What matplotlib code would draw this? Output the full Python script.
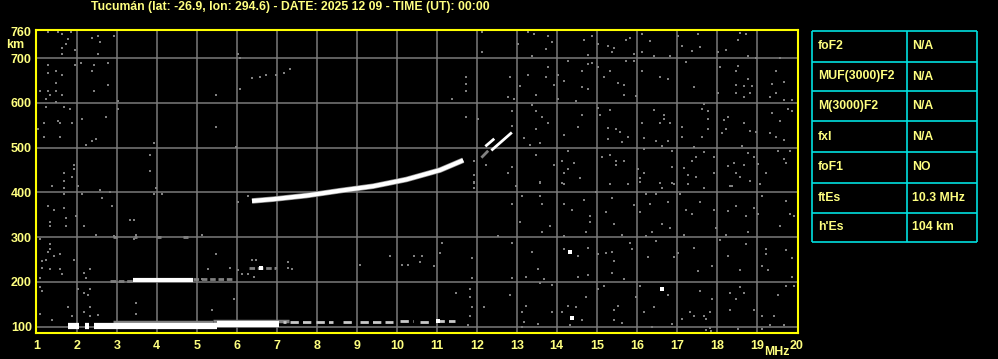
import numpy as np
import matplotlib
matplotlib.use("Agg")
import matplotlib.pyplot as plt

# -------------------------------
# Ionogram data
# -------------------------------
title = "Tucumán (lat: -26.9, lon: 294.6) - DATE: 2025 12 09 - TIME (UT): 00:00"

freq_ticks = list(range(1, 21))
height_ticks = [100, 200, 300, 400, 500, 600, 700, 760]
height_grid = [100, 200, 300, 400, 500, 600, 700]

# F layer trace (MHz, km)
f_trace_f = [6.38, 6.91, 7.74, 8.58, 9.41, 10.24, 11.08, 11.66]
f_trace_h = [381, 385, 393, 404, 414, 429, 450, 472]

# short traces above the F trace
x1_f = [12.24, 12.41]
x1_h = [505, 518]
x2_f = [12.39, 12.85]
x2_h = [496, 532]
x_gray_f = [12.14, 12.26]
x_gray_h = [480, 491]

# sporadic E (start MHz, end MHz, height km)
es_solid_f0 = [1.78, 2.20, 2.43, 5.50]
es_solid_f1 = [2.05, 2.31, 5.50, 7.05]
es_solid_h = [102, 101, 102, 105]

es_fringe_f0 = [2.90, 5.40]
es_fringe_f1 = [5.40, 7.30]
es_fringe_h = [110, 112]

es_broken_f0 = [7.16, 7.33, 7.99, 8.66, 9.08, 10.08, 10.58, 10.99]
es_broken_f1 = [7.24, 7.91, 8.41, 8.91, 9.91, 10.41, 10.83, 11.45]
es_broken_h = [111, 111, 110, 111, 111, 112, 111, 113]

# second hop of Es
es2_white_f0 = [3.40]
es2_white_f1 = [4.90]
es2_white_h = [204]
es2_gray_f0 = [2.83, 4.90, 6.30]
es2_gray_f1 = [3.40, 5.87, 6.97]
es2_gray_h = [203, 206, 231]

es3_gray_f0 = [2.90, 3.43, 4.00, 4.65]
es3_gray_f1 = [3.00, 3.50, 4.10, 4.78]
es3_gray_h = [300, 300, 300, 300]

# speckle noise (MHz, km)
noise_f = [
    1.29, 1.54, 1.64, 1.85, 1.79, 1.74, 1.64, 1.64, 1.96, 2.39, 2.54, 2.59, 2.94, 2.54,
    1.29, 1.95, 2.10, 2.44, 2.79, 1.49, 1.29, 1.64, 2.39, 1.49, 1.09, 1.29, 1.49, 1.34,
    1.64, 2.44, 2.79, 1.24, 1.49, 3.04, 1.24, 1.69, 1.84, 3.04, 2.14, 2.74, 1.54, 1.19,
    1.59, 1.89, 1.04, 1.19, 1.59, 2.24, 2.39, 2.49, 3.94, 3.84, 3.84, 1.94, 1.94, 1.69,
    1.89, 1.39, 2.04, 1.69, 3.99, 5.49, 5.49, 5.99, 6.04, 6.09, 6.09, 6.38, 6.59, 6.74,
    6.99, 7.19, 7.34,
    11.96, 12.14, 12.14, 11.74, 11.74, 11.74, 11.39, 12.84, 12.79, 12.94, 12.89, 11.74,
    12.04, 12.89, 11.94, 11.94, 11.94, 12.24, 12.89, 12.79, 12.99, 13.19, 13.34, 13.49,
    13.59, 13.29, 13.44, 13.74, 13.79, 13.89, 13.04, 13.39, 13.79, 13.29, 13.74, 13.09,
    13.49, 13.94, 13.39, 13.49, 13.64, 13.79, 13.49, 14.29, 14.04, 14.19, 14.04, 14.49,
    14.64, 14.79, 14.79, 14.89, 14.64, 14.69, 14.89, 14.79, 15.04, 15.29, 15.39, 15.44,
    15.74, 15.84, 15.94, 16.14, 16.34, 16.14, 16.44, 16.84, 17.04, 17.14, 17.39, 17.59,
    17.54, 18.04, 18.24, 18.59, 18.54, 18.74, 18.79, 18.99, 15.74, 15.94, 16.14, 16.59,
    16.79, 17.44, 17.24, 15.54, 15.69, 15.69, 15.99, 15.19, 15.04, 15.34, 18.09, 18.49,
    18.54, 18.79, 18.69, 18.89, 18.49, 18.04, 18.49, 18.69, 18.84, 19.39, 19.69, 19.49,
    19.34, 19.69, 19.89, 19.49, 19.59, 19.79, 19.89, 19.39, 19.59, 19.34, 19.49, 19.69,
    19.84, 19.54, 19.69, 19.74, 19.24, 19.04, 18.94, 18.84, 18.99, 18.69, 18.64, 18.79,
    18.44, 18.29, 18.69, 18.49, 18.59, 18.34, 18.84, 18.29, 18.24, 18.14, 18.19, 17.69,
    17.64, 17.79, 17.79, 17.79, 17.64, 17.14, 17.14, 17.44, 17.69, 17.94, 17.49, 17.19,
    17.39, 17.29, 17.49, 17.94, 16.44, 16.69, 16.69, 16.59, 16.84, 16.79, 16.64, 16.14,
    16.19, 16.49, 16.19, 16.89, 16.89, 16.59, 16.89, 16.04, 16.19, 16.09, 15.04, 15.34,
    15.09, 15.29, 15.49, 15.29, 15.64, 15.79, 15.59, 15.14, 15.34, 15.49, 15.69, 15.49,
    15.34, 15.79, 14.64, 14.54, 14.19, 14.29, 14.14, 14.44, 14.19, 13.94, 14.29, 14.59,
    14.14, 13.59,
    1.39, 1.69, 2.04, 1.69, 2.14, 2.59, 2.84, 3.99, 3.94, 4.14, 2.64, 1.29, 1.44, 1.69,
    1.99, 1.74, 1.34, 1.34, 1.74, 2.19, 2.89, 3.34, 3.44, 2.49, 2.94, 3.49, 3.44, 1.09,
    5.14, 1.34, 1.34, 1.29, 1.59, 1.94, 1.14, 1.24, 1.14, 1.34, 1.59, 1.44, 1.64, 1.09,
    2.19, 2.34, 2.24, 5.49, 5.29, 5.84, 6.04, 6.14, 6.29, 6.44, 6.39, 6.49, 7.29, 7.29,
    7.39, 6.99, 9.09, 9.84, 10.14, 10.29, 10.44, 6.04, 6.29, 5.14, 1.09, 1.14, 2.04, 2.19,
    2.34, 2.29, 2.34, 2.19, 2.34, 2.54, 1.79, 1.09, 3.49, 3.49, 5.39, 5.94, 1.89, 1.39,
    11.94, 11.94, 12.99, 13.59, 14.19, 14.99, 15.34, 15.79, 16.09, 16.64, 16.94, 17.29,
    17.69, 18.39, 19.09, 12.89, 13.14, 13.59, 13.64, 14.19, 14.69, 14.39, 14.84, 14.84,
    15.24, 15.39, 15.94, 16.09, 16.24, 16.34, 16.49, 16.79, 17.09, 17.24, 17.39, 17.59,
    17.94, 18.29, 18.49, 18.74, 18.94, 19.04, 19.14, 19.74, 19.84, 19.94, 19.59, 18.79,
    18.24, 17.99, 17.19, 16.84, 16.64, 16.39, 16.24, 15.64, 15.44, 14.74, 14.19, 13.84,
    13.64, 13.09, 12.54, 12.89, 11.14, 11.09, 10.64, 10.59, 10.94, 11.89, 13.39, 13.54,
    14.19, 14.54, 14.79, 15.04, 15.24, 15.39, 15.44, 15.89, 15.84, 16.29, 16.49, 16.94,
    17.04, 17.44, 17.54, 17.89, 18.09, 18.29, 18.59, 18.74, 19.24, 19.24, 19.14, 19.29,
    19.74, 19.89, 19.89, 15.39, 15.69, 14.79, 14.54, 13.89, 13.59, 13.69, 13.24, 12.89,
    11.89, 11.84, 11.49, 11.84, 11.89, 12.19, 11.84, 11.79, 12.84, 13.24, 13.14, 13.19,
    13.54, 13.89, 14.14, 14.29, 14.49, 14.64, 14.74, 15.04, 15.19, 15.54, 15.44, 15.44,
    15.99, 16.09, 16.19, 16.44, 16.79, 17.14, 17.34, 17.59, 17.69, 17.74, 17.84, 17.89,
    18.34, 18.49, 18.59, 18.69, 18.34, 18.94, 19.14, 19.44, 19.54, 19.74, 19.94, 19.34,
    19.69, 17.84, 17.44, 16.89, 16.39, 15.64, 14.34, 13.14, 17.74, 17.86, 19.12, 18.52,
]
noise_h = [
    759, 758, 755, 759, 743, 732, 723, 710, 719, 745, 749, 737, 750, 709,
    685, 685, 690, 685, 690, 672, 667, 663, 672, 645, 626, 627, 627, 618,
    618, 627, 640, 609, 602, 605, 591, 591, 587, 587, 564, 569, 560, 555,
    555, 555, 542, 524, 524, 506, 515, 519, 510, 484, 448, 461, 452, 443,
    434, 414, 414, 410, 410, 618, 546, 501, 710, 701, 631, 655, 658, 663,
    663, 667, 676,
    762, 759, 714, 658, 643, 627, 609, 658, 614, 609, 582, 569,
    564, 549, 470, 439, 422, 461, 457, 443, 414, 522, 505, 484,
    510, 758, 755, 720, 750, 737, 732, 705, 681, 663, 658, 638,
    618, 640, 596, 582, 569, 555, 542, 694, 663, 649, 609, 605,
    636, 631, 688, 690, 672, 741, 750, 708, 732, 728, 714, 723,
    741, 746, 710, 755, 739, 714, 705, 705, 750, 728, 717, 726,
    755, 714, 719, 756, 741, 755, 705, 701, 694, 694, 672, 658,
    654, 636, 692, 645, 640, 618, 616, 658, 681, 672, 681, 672,
    683, 654, 638, 638, 640, 622, 622, 614, 622, 643, 647, 622,
    614, 607, 607, 672, 701, 587, 582, 578, 560, 533, 524, 517,
    493, 493, 475, 466, 443, 463, 479, 537, 535, 555, 504, 488,
    466, 459, 461, 443, 434, 414, 425, 569, 542, 533, 562, 598,
    587, 582, 564, 542, 524, 546, 524, 502, 490, 479, 479, 454,
    470, 439, 434, 443, 584, 573, 564, 555, 555, 515, 504, 555,
    522, 515, 497, 493, 457, 421, 421, 452, 443, 432, 589, 584,
    573, 544, 542, 519, 513, 524, 535, 479, 484, 470, 470, 461,
    418, 418, 573, 546, 528, 493, 470, 466, 443, 461, 452, 432,
    421, 421,
    414, 425, 414, 396, 396, 405, 401, 410, 396, 396, 387, 369, 360, 365,
    347, 342, 333, 324, 324, 324, 369, 338, 338, 306, 302, 306, 297, 295,
    306, 284, 273, 266, 262, 248, 246, 248, 232, 230, 230, 257, 217, 210,
    219, 230, 210, 262, 230, 232, 226, 217, 217, 212, 248, 248, 244, 232,
    228, 232, 239, 257, 239, 239, 257, 378, 392, 206, 188, 179, 185, 176,
    185, 172, 145, 132, 123, 127, 143, 129, 152, 129, 138, 163, 123, 114,
    423, 410, 414, 423, 418, 401, 418, 418, 423, 410, 418, 418,
    410, 414, 418, 374, 392, 392, 374, 374, 383, 360, 347, 333,
    356, 387, 372, 356, 396, 374, 396, 378, 396, 360, 351, 378,
    360, 358, 369, 347, 365, 351, 392, 380, 351, 347, 324, 311,
    306, 320, 306, 320, 329, 311, 302, 306, 329, 311, 302, 324,
    311, 333, 302, 288, 286, 264, 257, 244, 235, 253, 268, 228,
    273, 259, 275, 262, 264, 268, 246, 273, 288, 255, 291, 255,
    264, 277, 224, 235, 293, 257, 226, 284, 273, 262, 235, 226,
    271, 253, 212, 221, 206, 215, 212, 194, 197, 206, 212, 208,
    210, 185, 176, 167, 145, 145, 123, 103, 172, 147, 132, 111,
    107, 132, 132, 147, 143, 114, 167, 184, 190, 147, 138, 116,
    167, 190, 132, 143, 172, 118, 134, 179, 123, 118, 132, 163,
    176, 163, 188, 176, 138, 138, 123, 125, 172, 192, 190, 103,
    103, 98, 123, 107, 100, 109, 103, 100, 92, 90, 94, 96,
]

# bright isolated echoes
bright_f = [14.34, 14.39, 16.64, 6.60, 11.04]
bright_h = [266, 120, 185, 231, 113]

# parameter table
param_names = ["foF2", "MUF(3000)F2", "M(3000)F2", "fxI", "foF1", "ftEs", "h'Es"]
param_values = ["N/A", "N/A", "N/A", "N/A", "NO", "10.3 MHz", "104 km"]

# -------------------------------
# Figure
# -------------------------------
W, H = 998, 359
txt_col = "#ffff80"
frame_col = "#ffff00"
grid_col = "#7a7a7a"
noise_col = "#808080"
cyan = "#00e0e0"
font = "Liberation Sans"
fs = 8.8

fig = plt.figure(figsize=(W / 100, H / 100), dpi=100, facecolor="black")
ax = fig.add_axes([36 / W, (H - 333) / H, 762 / W, 303 / H], facecolor="black")
ax.set_xlim(0.98, 20.03)
ax.set_ylim(86, 763)

for f in freq_ticks[1:-1]:
    ax.axvline(f, color=grid_col, lw=1.1, zorder=1)
for h in height_grid:
    ax.axhline(h, color=grid_col, lw=1.1, zorder=1)

ax.scatter(noise_f, noise_h, s=3.5, marker="s", color=noise_col, linewidths=0, zorder=2)

# sporadic E
ax.hlines(es_fringe_h, es_fringe_f0, es_fringe_f1, color=noise_col, lw=2.5, zorder=3)
ax.hlines(es_solid_h, es_solid_f0, es_solid_f1, color="white", lw=4.5, zorder=4)
ax.hlines(es_broken_h, es_broken_f0, es_broken_f1, color="#c8c8c8", lw=2.0,
          linestyles=(0, (3, 1.5)), zorder=4)
ax.hlines(es2_gray_h, es2_gray_f0, es2_gray_f1, color=noise_col, lw=2.0,
          linestyles=(0, (2, 1)), zorder=3)
ax.hlines(es2_white_h, es2_white_f0, es2_white_f1, color="white", lw=3.0, zorder=4)
ax.hlines(es3_gray_h, es3_gray_f0, es3_gray_f1, color=noise_col, lw=2.0, zorder=3)

# F trace
ax.plot(f_trace_f, f_trace_h, color="#909090", lw=4.0, solid_capstyle="butt", zorder=4)
ax.plot(f_trace_f, f_trace_h, color="white", lw=3.0, solid_capstyle="butt", zorder=5)
ax.plot(x_gray_f, x_gray_h, color=noise_col, lw=2.0, zorder=4)
ax.plot(x1_f, x1_h, color="white", lw=2.0, zorder=5)
ax.plot(x2_f, x2_h, color="white", lw=2.0, zorder=5)
ax.scatter(bright_f, bright_h, s=5, marker="s", color="white", linewidths=0, zorder=5)

for sp in ax.spines.values():
    sp.set_color(frame_col)
    sp.set_linewidth(1.5)

ax.set_xticks(freq_ticks)
ax.set_yticks(height_ticks)
ax.tick_params(length=0, colors=txt_col, labelsize=fs + 0.2)
ax.tick_params(axis="x", pad=5)
ax.tick_params(axis="y", pad=3)
for lab in ax.get_xticklabels() + ax.get_yticklabels():
    lab.set_fontweight("bold")
    lab.set_family(font)

fig.text(6 / W, 1 - 45 / H, "km", color=txt_col, fontsize=fs + 0.2, fontweight="bold",
         family=font, va="center", ha="left")
fig.text(790 / W, 1 - 352 / H, "MHz", color=txt_col, fontsize=fs, fontweight="bold",
         family=font, va="center", ha="right")
fig.text(91 / W, 1 - 7 / H, title, color=txt_col, fontsize=fs, fontweight="bold",
         family=font, va="center", ha="left")

# parameter table
tab = fig.add_axes([0, 0, 1, 1], facecolor="none")
tab.set_xlim(0, W)
tab.set_ylim(H, 0)
tab.axis("off")
x0, xm, x1 = 812, 907, 977
row_y = [30.7, 61.7, 91.3, 121.3, 151.7, 182.7, 212.7, 242.3]
tab.hlines(row_y, x0, x1, color=cyan, lw=1.2)
tab.vlines([x0, xm, x1], row_y[0], row_y[-1], color=cyan, lw=1.2)
for i, (name, val) in enumerate(zip(param_names, param_values)):
    yc = (row_y[i] + row_y[i + 1]) / 2
    tab.text(x0 + 6, yc, name, color=txt_col, fontsize=fs, fontweight="bold",
             family=font, va="center", ha="left")
    tab.text(xm + 5, yc, val, color=txt_col, fontsize=fs, fontweight="bold",
             family=font, va="center", ha="left")

fig.savefig("out.png", dpi=100, facecolor="black")
